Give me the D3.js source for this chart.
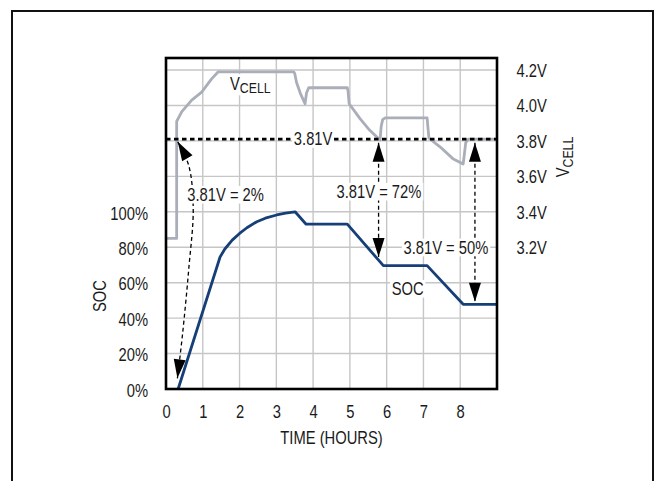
<!DOCTYPE html>
<html>
<head>
<meta charset="utf-8">
<script src="https://cdn.jsdelivr.net/npm/d3@7"></script>
<style>
body { margin: 0; background: #fff; }
svg text { font-family: "Liberation Sans", Arial, sans-serif; font-size: 18px; fill: #1a1a1a; }
</style>
</head>
<body>
<svg id="chart" width="656" height="481"></svg>
<script>
// cell voltage trace (hours, volts)
var vcellTime  = [0, 0.29, 0.29, 0.43, 0.7, 0.97, 1.24, 1.42, 3.47, 3.5, 3.55, 3.65, 3.78, 3.82, 3.88, 4.93, 4.95, 4.98, 5.27, 5.54, 5.82, 5.85, 5.89, 5.96, 7.1, 7.12, 7.15, 7.45, 7.8, 8.08, 8.11, 8.15, 8.22, 9];
var vcellVolts = [3.25, 3.25, 3.91, 3.965, 4.03, 4.075, 4.15, 4.19, 4.19, 4.18, 4.13, 4.07, 4.01, 4.07, 4.10, 4.10, 4.08, 4.01, 3.927, 3.86, 3.805, 3.88, 3.92, 3.93, 3.93, 3.88, 3.815, 3.767, 3.70, 3.67, 3.72, 3.79, 3.81, 3.81];

// state of charge trace (hours, %)
var socTime = [0.33, 1.47, 1.6, 1.8, 2.0, 2.2, 2.47, 2.7, 3.01, 3.25, 3.51, 3.81, 4.93, 5.91, 7.1, 8.08, 9];
var socPct  = [0, 74.5, 79, 84, 87.8, 91, 94.4, 96.4, 98.2, 99.3, 100, 93, 93, 69.6, 69.6, 47.8, 47.8];

var timeTicks = [0, 1, 2, 3, 4, 5, 6, 7, 8];
var socTicks = [0, 20, 40, 60, 80, 100];
var voltTicks = [3.2, 3.4, 3.6, 3.8, 4.0, 4.2];
var thresholdV = 3.81;

var NARROW = 0.82; // condensed look of the original lettering

var svg = d3.select("#chart");
var pLeft = 166, pRight = 497, pTop = 58, pBottom = 389;

var x = d3.scaleLinear().domain([0, 9]).range([pLeft, pRight]);
var ySoc = d3.scaleLinear().domain([0, 100]).range([pBottom, pBottom - 5 * 35.44]);
var yV = d3.scaleLinear().domain([3.2, 4.2]).range([ySoc(80), ySoc(180)]);

function narrow(sel) {
    sel.each(function() {
        var t = d3.select(this);
        var tx = +t.attr("x") || 0;
        t.attr("x", tx / NARROW)
         .attr("transform", (t.attr("transform") || "") + " scale(" + NARROW + ",1)");
    });
}

// outer frame
svg.append("rect")
    .attr("x", 12).attr("y", 11)
    .attr("width", 641).attr("height", 520)
    .attr("fill", "none").attr("stroke", "#111").attr("stroke-width", 2);

// grid
var grid = svg.append("g").attr("stroke", "#c6c6c6").attr("stroke-width", 1.4);
grid.selectAll(".gx").data(d3.range(1, 9)).enter().append("line")
    .attr("x1", function(d) { return x(d); }).attr("x2", function(d) { return x(d); })
    .attr("y1", pTop).attr("y2", pBottom);
grid.selectAll(".gy").data(d3.range(20, 200, 20)).enter().append("line")
    .attr("x1", pLeft).attr("x2", pRight)
    .attr("y1", function(d) { return ySoc(d); }).attr("y2", function(d) { return ySoc(d); });

// VCELL trace
var vLine = d3.line()
    .x(function(d, i) { return x(vcellTime[i]); })
    .y(function(d) { return yV(d); });
svg.append("path")
    .attr("d", vLine(vcellVolts))
    .attr("fill", "none").attr("stroke", "#a9aeb8").attr("stroke-width", 2.8)
    .attr("stroke-linejoin", "round");

// 3.81V threshold
svg.append("line")
    .attr("x1", pLeft).attr("x2", pRight)
    .attr("y1", yV(thresholdV)).attr("y2", yV(thresholdV))
    .attr("stroke", "#000").attr("stroke-width", 2.6)
    .attr("stroke-dasharray", "4.5,3.5");

// SOC trace
var socLine = d3.line()
    .x(function(d, i) { return x(socTime[i]); })
    .y(function(d) { return ySoc(d); });
svg.append("path")
    .attr("d", socLine(socPct))
    .attr("fill", "none").attr("stroke", "#163f78").attr("stroke-width", 2.8)
    .attr("stroke-linejoin", "round");

// arrows
svg.append("defs").append("marker")
    .attr("id", "head").attr("markerUnits", "userSpaceOnUse")
    .attr("viewBox", "-20 -7 21 14").attr("refX", 0).attr("refY", 0)
    .attr("markerWidth", 21).attr("markerHeight", 14)
    .attr("orient", "auto-start-reverse")
    .append("path").attr("d", "M0,0L-19,-6L-19,6Z").attr("fill", "#000");

var arrows = svg.append("g")
    .attr("fill", "none").attr("stroke", "#000").attr("stroke-width", 1.3)
    .attr("stroke-dasharray", "4,3");

var bend = [[0.32, 139.5], [0.62, 126], [0.74, 102], [0.62, 68], [0.45, 31], [0.31, 6]];
arrows.append("path")
    .attr("d", d3.line().curve(d3.curveCatmullRom)
        .x(function(d) { return x(d[0]); })
        .y(function(d) { return ySoc(d[1]); })(bend))
    .attr("marker-start", "url(#head)").attr("marker-end", "url(#head)");

[[5.78, 74.5], [8.4, 49.3]].forEach(function(a) {
    arrows.append("line")
        .attr("x1", x(a[0])).attr("x2", x(a[0]))
        .attr("y1", yV(3.79)).attr("y2", ySoc(a[1]))
        .attr("marker-start", "url(#head)").attr("marker-end", "url(#head)");
});

// labels with white backing
function boxed(px, py, anchor) {
    var g = svg.append("g")
        .attr("transform", "translate(" + px + "," + py + ") scale(" + NARROW + ",1)");
    var el = g.append("text")
        .attr("dy", "0.35em")
        .attr("text-anchor", anchor || "middle");
    return { g: g, text: el };
}
function back(lab) {
    var b = lab.text.node().getBBox();
    lab.g.insert("rect", "text")
        .attr("x", b.x - 2).attr("y", b.y + 1)
        .attr("width", b.width + 4).attr("height", b.height - 2)
        .attr("fill", "#fff");
}
[[4.0, yV(thresholdV), "3.81V"],
 [1.62, ySoc(109.5), "3.81V = 2%"],
 [5.79, ySoc(111.2), "3.81V = 72%"],
 [7.61, ySoc(79.7), "3.81V = 50%"],
 [6.57, ySoc(56.4), "SOC"]].forEach(function(l) {
    var lab = boxed(x(l[0]), l[1]);
    lab.text.text(l[2]);
    back(lab);
});

var vlab = boxed(x(1.74), yV(4.09), "start");
vlab.text.attr("dy", null);
vlab.text.append("tspan").text("V");
vlab.text.append("tspan").attr("dy", 3.5).attr("font-size", "15px").text("CELL");
back(vlab);

// plot border
svg.append("rect")
    .attr("x", pLeft).attr("y", pTop)
    .attr("width", pRight - pLeft).attr("height", pBottom - pTop)
    .attr("fill", "none").attr("stroke", "#000").attr("stroke-width", 2.6);

// axes
var xAxis = svg.append("g").attr("transform", "translate(0," + pBottom + ")")
    .call(d3.axisBottom(x).tickValues(timeTicks).tickSize(0).tickPadding(16.5).tickFormat(d3.format("d")));
var lAxis = svg.append("g").attr("transform", "translate(" + pLeft + ",1.5)")
    .call(d3.axisLeft(ySoc).tickValues(socTicks).tickSize(0).tickPadding(18).tickFormat(function(d) { return d + "%"; }));
var rAxis = svg.append("g").attr("transform", "translate(" + pRight + ",0.5)")
    .call(d3.axisRight(yV).tickValues(voltTicks).tickSize(0).tickPadding(19.5).tickFormat(function(d) { return d.toFixed(1) + "V"; }));
[xAxis, lAxis, rAxis].forEach(function(a) {
    a.select(".domain").remove();
    a.attr("font-size", null).attr("font-family", null);
    a.selectAll("text").style("fill", "#1a1a1a").call(narrow);
});

svg.append("text")
    .attr("transform", "translate(" + ((pLeft + pRight) / 2) + ",444)")
    .attr("text-anchor", "middle")
    .text("TIME (HOURS)")
    .call(narrow);

svg.append("text")
    .attr("transform", "translate(106,296) rotate(-90)")
    .attr("text-anchor", "middle")
    .text("SOC")
    .call(narrow);

var vTitle = svg.append("text")
    .attr("transform", "translate(569,157) rotate(-90)")
    .attr("text-anchor", "middle");
vTitle.append("tspan").text("V");
vTitle.append("tspan").attr("dy", 3.5).attr("font-size", "15px").text("CELL");
vTitle.call(narrow);
</script>
</body>
</html>
